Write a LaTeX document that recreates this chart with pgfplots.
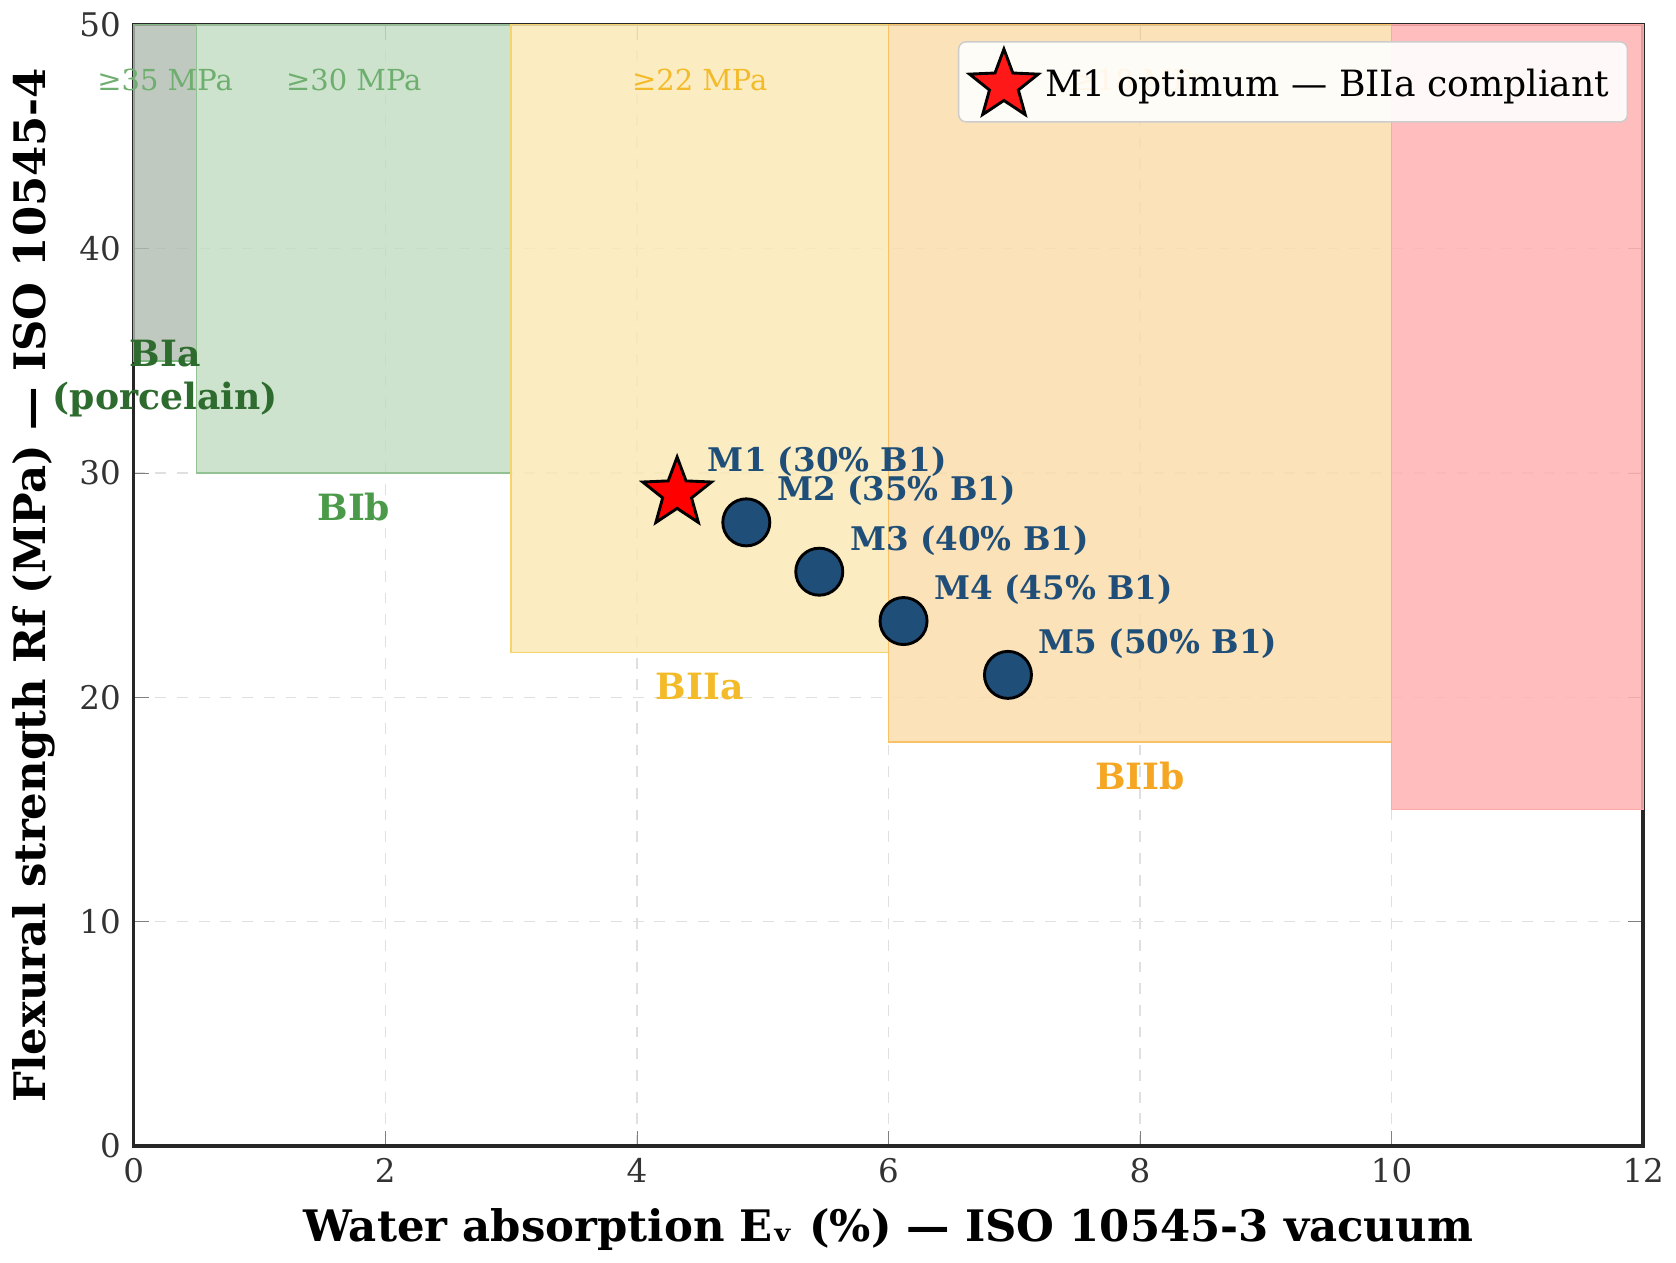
\documentclass[border=0pt]{standalone}
\usepackage{pgfplots}
\pgfplotsset{compat=1.18}
\usepackage{fontspec}
\setmainfont{DejaVu Serif}
\definecolor{navy}{HTML}{1F4E79}
\definecolor{dg}{HTML}{2E6B2E}
\definecolor{gr}{HTML}{4A9A4A}
\definecolor{gold}{HTML}{F2C12E}
\definecolor{org}{HTML}{F5A623}
\pgfdeclareplotmark{fstar}{%
  \pgfpathmoveto{\pgfqpointpolar{90}{\pgfplotmarksize}}%
  \pgfpathlineto{\pgfqpointpolar{126}{0.42\pgfplotmarksize}}%
  \pgfpathlineto{\pgfqpointpolar{162}{\pgfplotmarksize}}%
  \pgfpathlineto{\pgfqpointpolar{198}{0.42\pgfplotmarksize}}%
  \pgfpathlineto{\pgfqpointpolar{234}{\pgfplotmarksize}}%
  \pgfpathlineto{\pgfqpointpolar{270}{0.42\pgfplotmarksize}}%
  \pgfpathlineto{\pgfqpointpolar{306}{\pgfplotmarksize}}%
  \pgfpathlineto{\pgfqpointpolar{342}{0.42\pgfplotmarksize}}%
  \pgfpathlineto{\pgfqpointpolar{18}{\pgfplotmarksize}}%
  \pgfpathlineto{\pgfqpointpolar{54}{0.42\pgfplotmarksize}}%
  \pgfpathclose\pgfusepathqfillstroke}
\begin{document}
\begin{tikzpicture}
\begin{axis}[
  scale only axis, width=14.67cm, height=10.9cm,
  xmin=0, xmax=12, ymin=0, ymax=50,
  xtick={0,2,...,12}, ytick={0,10,...,50},
  /pgf/number format/assume math mode=true,
  tick label style={font=\small, text=black!80},
  grid=major, grid style={dashed, black!12},
  axis line style={black!85, line width=1pt},
  xlabel={\bfseries Water absorption Eᵥ (\%) — ISO 10545-3 vacuum},
  ylabel={\bfseries Flexural strength Rf (MPa) — ISO 10545-4},
  label style={font=\large},
  legend style={at={(0.99,0.985)}, anchor=north east, font=\normalsize, draw=black!20, rounded corners=2pt, fill=white, fill opacity=0.9, text opacity=1},
  clip=false,
]
\addplot[fill=dg!40!gray!50, fill opacity=0.8, draw=gr!70, forget plot] coordinates {(0,35)(0.5,35)(0.5,50)(0,50)} -- cycle;
\addplot[fill=gr!35, fill opacity=0.8, draw=gr!60, forget plot] coordinates {(0.5,30)(3,30)(3,50)(0.5,50)} -- cycle;
\addplot[fill=gold!35, fill opacity=0.85, draw=gold!70, forget plot] coordinates {(3,22)(6,22)(6,50)(3,50)} -- cycle;
\addplot[fill=org!38, fill opacity=0.85, draw=org!70, forget plot] coordinates {(6,18)(10,18)(10,50)(6,50)} -- cycle;
\addplot[fill=red!30, fill opacity=0.85, draw=red!35, forget plot] coordinates {(10,15)(12,15)(12,50)(10,50)} -- cycle;
\node[text=gr!80, font=\footnotesize] at (axis cs:0.25,47.5) {≥35 MPa};
\node[text=gr!80, font=\footnotesize] at (axis cs:1.75,47.5) {≥30 MPa};
\node[text=gold!90!orange, font=\footnotesize] at (axis cs:4.5,47.5) {≥22 MPa};
\node[text=org, font=\footnotesize] at (axis cs:8,47.5) {≥18 MPa};
\node[text=dg, font=\bfseries, align=center] at (axis cs:0.25,34.2) {BIa\\(porcelain)};
\node[text=gr, font=\bfseries] at (axis cs:1.75,28.5) {BIb};
\node[text=gold!90!orange, font=\bfseries] at (axis cs:4.5,20.5) {BIIa};
\node[text=org, font=\bfseries] at (axis cs:8,16.5) {BIIb};
\addplot[only marks, mark=*, mark size=6.5pt, mark options={fill=navy, draw=black, line width=0.8pt}, forget plot] coordinates {(4.87,27.8)(5.45,25.6)(6.12,23.4)(6.95,21.0)};
\addplot[only marks, mark=fstar, mark size=10pt, mark options={fill=red, draw=black, line width=0.8pt}] coordinates {(4.32,29.1)};
\addlegendentry{M1 optimum — BIIa compliant}
\addplot[only marks, mark=none, forget plot,
  nodes near coords, point meta=explicit symbolic,
  nodes near coords style={anchor=south west, text=navy, font=\small\bfseries, xshift=5pt, yshift=1pt}]
  table[meta=l] {
  x y l
  4.32 29.1 {M1 (30\% B1)}
  4.87 27.8 {M2 (35\% B1)}
  5.45 25.6 {M3 (40\% B1)}
  6.12 23.4 {M4 (45\% B1)}
  6.95 21.0 {M5 (50\% B1)}
  };
\end{axis}
\end{tikzpicture}
\end{document}
